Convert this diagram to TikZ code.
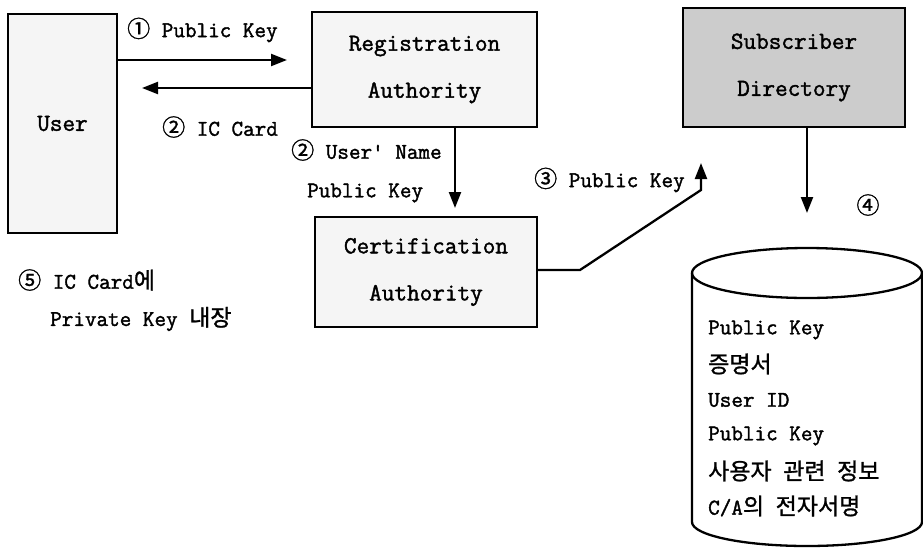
\documentclass[tikz,border=0pt]{standalone}
\usepackage{fontspec}
\newfontfamily\kr{Noto Sans CJK KR}[FakeBold=1.2]
\newfontfamily\lat{Latin Modern Mono}[FakeBold=1.6]
\usetikzlibrary{arrows.meta}
\begin{document}
\begin{tikzpicture}[x=1pt,y=-1pt,
  lbl/.style={font=\lat\fontsize{22.5}{44}\selectfont, inner sep=0pt},
  boxed/.style={draw, line width=2.3pt, fill=black!4, inner sep=0pt, align=center,
                font=\lat\fontsize{24.5}{47}\selectfont},
  flow/.style={line width=2.3pt, -{Triangle[length=16pt,width=12pt]}},
  wire/.style={line width=2.3pt}]
\useasboundingbox (0,0) rectangle (923,552);

% participants
\node[boxed, minimum width=109pt, minimum height=219pt] (user) at (62.5,123.5) {User};
\node[boxed, minimum width=225pt, minimum height=115pt] (ra) at (424.5,69.5) {Registration\\Authority};
\node[boxed, minimum width=222pt, minimum height=110pt] (ca) at (426,272) {Certification\\Authority};
\node[boxed, fill=black!20, minimum width=222pt, minimum height=119pt] (sd) at (794,67.5) {Subscriber\\Directory};

% free ends of the arrows
\coordinate (a1) at (287,60);
\coordinate (a2) at (142,88);
\coordinate (a3) at (455,208);
\coordinate (bendA) at (580,270);
\coordinate (bendB) at (701,190);
\coordinate (a4) at (701,163);
\coordinate (a5) at (807,213);

\draw[flow] (user.east |- a1) -- (a1);
\draw[flow] (ra.west |- a2) -- (a2);
\draw[flow] (ra.south -| a3) -- (a3);
\draw[flow] (ca.east |- bendA) -- (bendA) -- (bendB) -- (a4);
\draw[flow] (sd.south -| a5) -- (a5);

% step labels
\newcommand\krn[1]{{\kr\fontsize{23}{23}\selectfont #1}}
\node[lbl, anchor=west] (t1) at (127,30) {\krn{①} Public Key};
\node[lbl, anchor=west] (t2) at (162,127) {\krn{②} IC Card};
\node[lbl, anchor=west] (t3) at (291,150) {\krn{②} User' Name};
\node[lbl, anchor=west] (t3b) at (307,193) {Public Key};
\node[lbl, anchor=west] (t4) at (534,180) {\krn{③} Public Key};
\node[lbl, anchor=center] (t5) at (868,205) {\krn{④}};
\node[lbl, anchor=west] (t6) at (18,280) {\krn{⑤} IC Card\krn{에}};
\node[lbl, anchor=west] (t6b) at (50,319) {Private Key \krn{내장}};

% certificate store (cylinder)
\draw[wire] (692,273) -- (692,522) arc[start angle=180, end angle=0, x radius=115, y radius=24] -- (922,273);
\draw[wire] (807,273) ellipse[x radius=115, y radius=25];

\node[lbl, anchor=west] (c1) at (708,330) {Public Key};
\node[lbl, anchor=west] (c2) at (708,364) {\krn{증명서}};
\node[lbl, anchor=west] (c3) at (708,400) {User ID};
\node[lbl, anchor=west] (c4) at (708,436) {Public Key};
\node[lbl, anchor=west] (c5) at (708,471) {\krn{사용자} \krn{관련} \krn{정보}};
\node[lbl, anchor=west] (c6) at (708,506) {C/A\krn{의} \krn{전자서명}};
\end{tikzpicture}
\end{document}
